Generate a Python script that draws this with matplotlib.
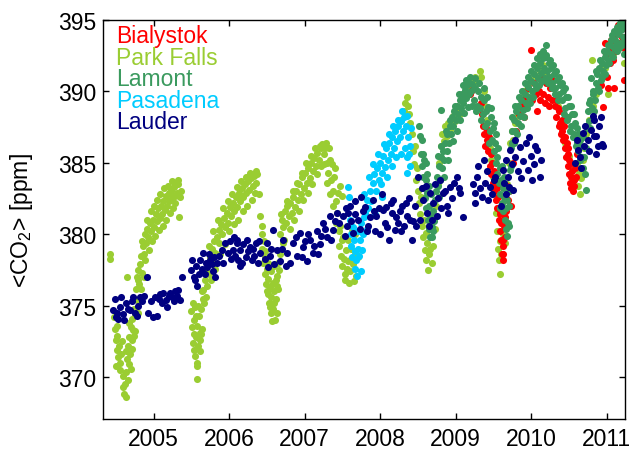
import numpy as np
import matplotlib
matplotlib.use("Agg")
import matplotlib.pyplot as plt

plt.rcParams['font.family'] = ['Liberation Sans', 'DejaVu Sans']
plt.rcParams['mathtext.fontset'] = 'custom'
plt.rcParams['mathtext.rm'] = 'Liberation Sans'
plt.rcParams['mathtext.it'] = 'Liberation Sans'

# (decimal year, XCO2 ppm)
bialystok = [
    (2009.19, 389.8), (2009.21, 390.1), (2009.33, 389.2), (2009.35, 388.4), (2009.36, 387.6),
    (2009.38, 387.0), (2009.39, 386.2), (2009.40, 387.4), (2009.42, 386.6), (2009.43, 385.8),
    (2009.45, 384.8), (2009.46, 385.6), (2009.47, 384.2), (2009.49, 383.6), (2009.50, 384.4),
    (2009.51, 383.0), (2009.53, 382.4), (2009.54, 383.4), (2009.55, 381.8), (2009.56, 382.6),
    (2009.57, 381.0), (2009.58, 380.2), (2009.59, 381.4), (2009.60, 379.6), (2009.61, 378.6),
    (2009.62, 378.2), (2009.63, 379.2), (2009.64, 380.6), (2009.65, 379.8), (2009.66, 381.6),
    (2009.67, 380.8), (2009.69, 382.4), (2009.71, 383.0), (2009.73, 382.0),
    (2009.44, 386.8), (2009.48, 385.0), (2009.52, 384.0), (2009.55, 383.2), (2009.58, 381.6),
    (2009.60, 380.8), (2009.62, 379.6), (2009.63, 378.6), (2009.65, 381.2), (2009.68, 383.4),
    (2009.76, 385.0), (2009.80, 387.2), (2009.84, 388.4), (2009.87, 389.0), (2009.90, 388.2),
    (2009.93, 389.6), (2009.96, 390.2), (2009.99, 392.9), (2010.01, 389.4), (2010.04, 390.6),
    (2010.07, 388.6), (2010.10, 390.0), (2010.13, 391.0), (2010.16, 389.8), (2010.19, 390.6),
    (2010.22, 389.6), (2010.25, 390.2), (2010.28, 389.4),
    (2010.06, 389.8), (2010.12, 389.4), (2010.18, 389.2), (2010.24, 389.0), (2010.27, 390.8),
    (2010.31, 389.0), (2010.33, 388.2), (2010.34, 389.4), (2010.36, 387.6), (2010.37, 388.6),
    (2010.39, 387.0), (2010.40, 388.0), (2010.42, 386.6), (2010.43, 387.6), (2010.44, 386.0),
    (2010.46, 385.4), (2010.47, 386.4), (2010.48, 384.8), (2010.49, 385.6), (2010.50, 384.2),
    (2010.51, 383.6), (2010.52, 385.0), (2010.53, 383.2), (2010.54, 384.4), (2010.55, 383.0),
    (2010.56, 383.8), (2010.58, 384.6), (2010.60, 385.6),
    (2010.35, 388.8), (2010.38, 387.8), (2010.41, 387.2), (2010.45, 386.8), (2010.48, 386.0),
    (2010.50, 385.2), (2010.52, 384.0), (2010.54, 383.4), (2010.57, 383.4), (2010.59, 384.0),
    (2010.92, 390.4), (2010.95, 388.9), (2010.97, 393.4), (2011.00, 391.0), (2011.02, 390.2),
    (2011.04, 392.0), (2011.06, 393.0), (2011.08, 392.2), (2011.09, 390.2), (2011.10, 393.6),
    (2011.12, 392.8), (2011.14, 394.2), (2011.16, 393.4), (2011.18, 394.6), (2011.20, 393.8),
    (2011.21, 394.9), (2011.22, 394.4), (2011.23, 393.0), (2011.23, 390.8), (2011.24, 394.8),
    (2010.99, 392.6), (2011.05, 393.6), (2011.11, 394.0), (2011.15, 394.6), (2011.19, 394.9),
]

park_falls = [
    (2004.42, 378.6), (2004.42, 378.3),
    (2004.49, 373.4), (2004.50, 372.6), (2004.51, 371.9), (2004.52, 372.9), (2004.53, 371.4),
    (2004.54, 372.2), (2004.56, 370.5), (2004.57, 371.6), (2004.59, 370.1), (2004.61, 368.8),
    (2004.62, 369.5), (2004.63, 368.6), (2004.64, 370.4), (2004.65, 371.3), (2004.65, 377.0),
    (2004.66, 372.2), (2004.67, 370.9), (2004.68, 372.8), (2004.69, 371.6), (2004.70, 373.5),
    (2004.71, 372.6), (2004.72, 374.1), (2004.73, 373.3), (2004.74, 374.8), (2004.75, 375.5),
    (2004.76, 374.4), (2004.77, 376.2), (2004.78, 375.4), (2004.79, 376.8), (2004.80, 377.5),
    (2004.81, 376.5), (2004.82, 377.9), (2004.84, 378.5), (2004.85, 377.3), (2004.86, 379.2),
    (2004.88, 378.6), (2004.89, 380.0), (2004.90, 379.4), (2004.92, 380.4), (2004.93, 379.8),
    (2004.95, 380.8), (2004.97, 380.2), (2004.99, 381.0), (2005.01, 380.5), (2005.03, 381.4),
    (2005.05, 380.9), (2005.06, 381.8), (2005.08, 381.1), (2005.10, 382.0), (2005.11, 381.4),
    (2005.13, 382.3), (2005.15, 381.7), (2005.16, 382.7), (2005.18, 382.0), (2005.20, 382.9),
    (2005.21, 382.3), (2005.23, 383.0), (2005.25, 382.5), (2005.27, 383.3), (2005.28, 382.7),
    (2005.30, 383.6), (2005.31, 382.9), (2005.33, 383.5), (2005.34, 381.2), (2005.35, 382.6),
    (2004.48, 374.2), (2004.50, 370.8), (2004.52, 373.6), (2004.55, 371.0), (2004.58, 372.5),
    (2004.60, 369.3), (2004.63, 371.8), (2004.66, 369.8), (2004.68, 373.8), (2004.70, 370.6),
    (2004.72, 372.0), (2004.74, 372.9), (2004.76, 373.2), (2004.78, 377.0), (2004.80, 374.5),
    (2004.83, 376.2), (2004.85, 379.5), (2004.87, 377.0), (2004.89, 378.2), (2004.91, 381.0),
    (2004.94, 378.9), (2004.96, 381.6), (2004.98, 379.5), (2005.00, 382.0), (2005.02, 379.9),
    (2005.04, 382.4), (2005.07, 380.3), (2005.09, 382.8), (2005.12, 380.6), (2005.14, 383.2),
    (2005.17, 381.0), (2005.19, 383.4), (2005.22, 381.5), (2005.24, 383.7), (2005.26, 381.8),
    (2005.29, 382.2), (2005.32, 383.8), (2005.36, 383.0),
    (2005.50, 374.6), (2005.51, 373.5), (2005.52, 372.4), (2005.53, 374.0), (2005.54, 373.0),
    (2005.55, 371.5), (2005.55, 374.9), (2005.56, 372.8), (2005.57, 373.6), (2005.58, 369.9),
    (2005.58, 371.0), (2005.59, 372.2), (2005.60, 374.3), (2005.61, 373.1), (2005.62, 371.8),
    (2005.63, 374.8), (2005.64, 373.4), (2005.65, 375.5),
    (2005.52, 375.2), (2005.54, 371.9), (2005.56, 374.3), (2005.57, 370.8), (2005.59, 375.0),
    (2005.61, 372.6), (2005.63, 373.0), (2005.64, 376.0),
    (2005.66, 376.1), (2005.67, 375.2), (2005.68, 376.8), (2005.70, 377.5), (2005.71, 376.4),
    (2005.72, 378.0), (2005.74, 377.2), (2005.75, 378.4), (2005.77, 379.0), (2005.78, 378.1),
    (2005.80, 379.5), (2005.82, 378.7), (2005.84, 379.8), (2005.86, 380.3), (2005.87, 379.4),
    (2005.89, 380.7), (2005.91, 380.0), (2005.93, 381.1), (2005.95, 380.5), (2005.97, 381.5),
    (2005.99, 380.8), (2006.01, 381.9), (2006.03, 381.3), (2006.05, 382.2), (2006.07, 381.6),
    (2006.09, 382.6), (2006.11, 381.9), (2006.13, 382.9), (2006.15, 382.3), (2006.17, 383.2),
    (2006.19, 382.6), (2006.21, 383.5), (2006.23, 382.9), (2006.25, 383.7), (2006.27, 383.1),
    (2006.29, 383.9), (2006.31, 383.4), (2006.33, 384.1), (2006.35, 383.6), (2006.37, 384.2),
    (2006.39, 382.8), (2006.41, 381.3),
    (2005.66, 377.4), (2005.69, 375.6), (2005.73, 379.2), (2005.76, 376.8), (2005.79, 380.2),
    (2005.81, 377.6), (2005.85, 381.0), (2005.88, 378.6), (2005.92, 381.8), (2005.94, 379.3),
    (2005.98, 382.3), (2006.00, 380.2), (2006.04, 382.8), (2006.06, 380.7), (2006.10, 383.3),
    (2006.12, 381.0), (2006.16, 383.7), (2006.18, 381.6), (2006.22, 384.0), (2006.24, 382.0),
    (2006.28, 384.3), (2006.30, 382.4), (2006.34, 382.9), (2006.36, 384.4),
    (2006.43, 380.0), (2006.44, 379.0), (2006.45, 378.0), (2006.46, 379.5), (2006.47, 377.2),
    (2006.48, 378.4), (2006.49, 376.5), (2006.50, 377.6), (2006.51, 375.8), (2006.52, 376.9),
    (2006.53, 375.2), (2006.54, 376.3), (2006.55, 374.5), (2006.56, 375.6), (2006.57, 373.9),
    (2006.58, 374.8), (2006.59, 376.0), (2006.60, 375.2), (2006.61, 374.0), (2006.62, 375.5),
    (2006.63, 376.4), (2006.64, 377.1), (2006.65, 378.0),
    (2006.44, 380.6), (2006.47, 378.8), (2006.50, 376.0), (2006.52, 378.0), (2006.54, 374.9),
    (2006.56, 377.4), (2006.58, 376.6), (2006.60, 377.8), (2006.62, 376.8), (2006.63, 374.5),
    (2006.65, 376.2), (2006.66, 377.5),
    (2006.67, 378.6), (2006.68, 380.0), (2006.70, 381.0), (2006.71, 379.4), (2006.72, 380.5),
    (2006.74, 381.6), (2006.75, 380.8), (2006.77, 382.0), (2006.79, 381.3), (2006.81, 382.2),
    (2006.83, 381.5), (2006.85, 382.6), (2006.87, 381.9), (2006.89, 383.0), (2006.91, 382.4),
    (2006.93, 383.5), (2006.95, 382.8), (2006.97, 384.0), (2006.99, 383.2), (2007.01, 384.3),
    (2007.03, 383.6), (2007.05, 384.6), (2007.07, 383.9), (2007.09, 385.0), (2007.11, 384.4),
    (2007.13, 385.3), (2007.15, 384.8), (2007.17, 385.7), (2007.19, 385.2), (2007.21, 386.0),
    (2007.23, 386.3), (2007.25, 385.6), (2007.27, 386.0), (2007.29, 385.0), (2007.31, 384.3),
    (2007.33, 385.2), (2007.35, 383.8), (2007.37, 383.0), (2007.39, 384.0), (2007.41, 382.3),
    (2007.43, 381.5), (2007.45, 380.2), (2007.46, 379.2), (2007.47, 383.4), (2007.48, 378.5),
    (2007.49, 382.7), (2007.49, 379.6), (2007.50, 377.8), (2007.52, 378.3), (2007.53, 377.2),
    (2007.55, 378.9), (2007.56, 377.6), (2007.58, 378.1), (2007.60, 377.4), (2007.62, 379.0),
    (2007.64, 377.9), (2007.66, 378.6), (2007.68, 377.1),
    (2006.69, 381.4), (2006.73, 379.6), (2006.76, 382.3), (2006.80, 380.4), (2006.84, 383.0),
    (2006.86, 381.0), (2006.90, 383.6), (2006.92, 381.6), (2006.96, 384.3), (2006.98, 382.4),
    (2007.02, 385.0), (2007.04, 382.9), (2007.08, 385.5), (2007.10, 383.5), (2007.14, 386.0),
    (2007.16, 384.2), (2007.20, 386.2), (2007.22, 384.8), (2007.26, 384.9), (2007.28, 386.4),
    (2007.30, 383.6), (2007.32, 386.0), (2007.34, 382.8), (2007.36, 384.9), (2007.38, 382.0),
    (2007.40, 384.6), (2007.42, 380.8), (2007.44, 382.9), (2007.47, 380.6), (2007.51, 379.8),
    (2007.54, 376.8), (2007.57, 379.6), (2007.59, 376.6), (2007.61, 378.3), (2007.63, 380.2),
    (2007.65, 376.7), (2007.67, 380.0), (2007.70, 378.4),
    (2008.28, 388.0), (2008.31, 388.6), (2008.33, 389.2), (2008.35, 389.6), (2008.37, 389.0),
    (2008.38, 388.4), (2008.40, 387.8),
    (2008.42, 387.0), (2008.43, 385.8), (2008.45, 384.9), (2008.46, 386.2), (2008.47, 383.8),
    (2008.49, 384.6), (2008.50, 383.0), (2008.51, 382.2), (2008.53, 381.4), (2008.54, 382.6),
    (2008.55, 380.6), (2008.57, 379.8), (2008.58, 381.0), (2008.59, 378.9), (2008.60, 380.1),
    (2008.61, 378.2), (2008.62, 379.4), (2008.63, 377.5), (2008.64, 378.6), (2008.65, 380.6),
    (2008.66, 379.0), (2008.68, 378.0), (2008.70, 379.2), (2008.72, 380.4),
    (2008.74, 382.0), (2008.76, 383.5), (2008.78, 385.0), (2008.80, 386.2), (2008.82, 387.0),
    (2008.84, 386.5), (2008.86, 387.6), (2008.88, 386.9), (2008.90, 387.8), (2008.93, 387.3),
    (2008.96, 388.3), (2008.99, 387.9), (2009.02, 388.8), (2009.05, 388.4), (2009.08, 389.3),
    (2009.11, 389.7), (2009.14, 390.1), (2009.17, 390.5), (2009.20, 390.2), (2009.23, 390.8),
    (2009.26, 391.0), (2009.29, 390.6), (2009.32, 391.4), (2009.34, 391.0),
    (2009.37, 390.0), (2009.39, 389.0), (2009.41, 388.0), (2009.43, 387.0), (2009.45, 386.0),
    (2009.47, 385.2), (2009.49, 384.0), (2009.51, 382.8), (2009.53, 381.5), (2009.55, 380.2),
    (2009.56, 379.0), (2009.57, 378.2), (2009.58, 377.2), (2009.59, 379.5), (2009.60, 378.6),
    (2009.61, 380.8), (2009.63, 380.0), (2009.64, 381.5), (2009.65, 379.4), (2009.66, 382.5),
    (2009.68, 383.5), (2009.70, 385.0), (2009.72, 386.4), (2009.74, 387.2), (2009.76, 386.6),
    (2009.78, 387.8), (2009.81, 388.3), (2009.84, 388.8), (2009.87, 389.5), (2009.89, 390.0),
    (2009.90, 389.2), (2009.93, 390.1), (2009.96, 390.5), (2010.00, 390.8), (2010.04, 391.2),
    (2010.08, 391.0), (2010.12, 391.5), (2010.16, 391.8), (2010.20, 391.3), (2010.24, 391.0),
    (2010.30, 390.2), (2010.35, 389.0), (2010.40, 387.8), (2010.45, 386.4), (2010.50, 385.5),
    (2010.55, 384.6), (2010.60, 384.0), (2010.61, 385.0), (2010.62, 383.4), (2010.63, 384.3),
    (2010.64, 382.8), (2010.66, 383.9), (2010.68, 385.2), (2010.70, 386.0),
    (2010.73, 387.0), (2010.76, 388.0), (2010.80, 392.2), (2010.82, 389.0), (2010.86, 389.8),
    (2010.90, 390.4), (2010.94, 391.0), (2010.98, 391.6), (2011.01, 389.8), (2011.04, 392.2),
    (2011.08, 392.6), (2011.12, 393.0), (2011.16, 393.4), (2011.20, 393.2), (2011.23, 392.0),
    (2011.23, 393.8),
]

lamont = [
    (2008.52, 387.6), (2008.53, 386.9), (2008.54, 385.6), (2008.55, 384.8), (2008.56, 384.0),
    (2008.57, 383.2), (2008.58, 385.2), (2008.59, 382.5), (2008.60, 383.8), (2008.61, 381.8),
    (2008.62, 382.9), (2008.63, 381.0), (2008.64, 380.4), (2008.65, 382.0), (2008.66, 379.8),
    (2008.67, 381.2), (2008.68, 380.5), (2008.69, 379.8), (2008.70, 381.6), (2008.71, 380.9),
    (2008.72, 382.4),
    (2008.74, 383.0), (2008.75, 384.0), (2008.76, 383.4), (2008.78, 384.8), (2008.79, 383.8),
    (2008.80, 385.4), (2008.81, 388.7), (2008.82, 384.6), (2008.83, 385.8), (2008.85, 385.2),
    (2008.86, 386.4), (2008.88, 385.8), (2008.89, 387.0), (2008.91, 386.4), (2008.92, 387.6),
    (2008.94, 387.0), (2008.95, 388.2), (2008.97, 387.6), (2008.98, 388.6), (2009.00, 388.0),
    (2009.02, 389.0), (2009.03, 388.4), (2009.05, 389.4), (2009.07, 388.8), (2009.08, 389.8),
    (2009.10, 389.2), (2009.12, 390.1), (2009.13, 389.5), (2009.15, 390.4), (2009.17, 389.8),
    (2009.18, 390.6), (2009.20, 390.0), (2009.22, 390.5), (2009.24, 389.4), (2009.26, 390.2),
    (2009.28, 389.0), (2009.30, 390.0), (2009.32, 388.8), (2009.34, 389.6), (2009.36, 388.4),
    (2009.38, 389.4),
    (2009.40, 388.6), (2009.42, 387.8), (2009.43, 388.9), (2009.45, 387.2), (2009.46, 388.2),
    (2009.48, 386.6), (2009.49, 387.4), (2009.50, 385.8), (2009.52, 386.4), (2009.53, 385.0),
    (2009.54, 384.2), (2009.55, 385.4), (2009.57, 383.6), (2009.58, 384.6), (2009.59, 382.8),
    (2009.60, 383.8), (2009.61, 382.2), (2009.62, 383.2), (2009.63, 381.6), (2009.64, 382.6),
    (2009.65, 381.0), (2009.66, 380.4), (2009.67, 381.8), (2009.68, 379.9), (2009.69, 380.8),
    (2009.70, 382.0), (2009.71, 383.0),
    (2009.72, 384.5), (2009.73, 386.0), (2009.74, 387.2), (2009.75, 386.4), (2009.77, 388.0),
    (2009.78, 387.2), (2009.80, 388.6), (2009.82, 387.8), (2009.83, 389.0), (2009.85, 388.3),
    (2009.87, 389.4), (2009.89, 388.7), (2009.91, 389.8), (2009.93, 389.2), (2009.95, 390.3),
    (2009.97, 389.6), (2009.99, 390.7), (2010.01, 390.0), (2010.03, 391.2), (2010.05, 390.5),
    (2010.07, 391.6), (2010.09, 390.9), (2010.11, 392.0), (2010.13, 391.3), (2010.15, 392.3),
    (2010.17, 391.6), (2010.19, 392.4), (2010.19, 393.2), (2010.21, 391.4), (2010.23, 392.0),
    (2010.24, 391.0), (2010.26, 391.6), (2010.28, 390.6), (2010.30, 391.2), (2010.32, 390.2),
    (2010.34, 390.8), (2010.36, 389.8), (2010.38, 390.4), (2010.40, 389.4), (2010.42, 390.0),
    (2010.44, 388.8), (2010.46, 389.6), (2010.48, 388.2), (2010.50, 389.0), (2010.52, 387.6),
    (2010.54, 388.4), (2010.56, 387.0), (2010.58, 387.8), (2010.60, 386.4), (2010.62, 385.8),
    (2010.63, 387.0), (2010.65, 385.2), (2010.66, 386.2), (2010.68, 384.6), (2010.70, 385.4),
    (2010.72, 383.1), (2010.73, 386.0),
    (2010.74, 387.4), (2010.75, 388.6), (2010.77, 387.9), (2010.78, 389.4), (2010.79, 390.9),
    (2010.80, 388.8), (2010.82, 390.0), (2010.84, 389.4), (2010.85, 390.6), (2010.87, 391.2),
    (2010.88, 390.2), (2010.90, 391.6), (2010.92, 390.8), (2010.93, 392.0), (2010.95, 391.4),
    (2010.97, 392.4), (2010.99, 391.8), (2011.00, 392.8), (2011.02, 392.2), (2011.04, 393.2),
    (2011.06, 392.6), (2011.07, 393.9), (2011.09, 393.0), (2011.11, 393.6), (2011.13, 392.8),
    (2011.15, 394.0), (2011.17, 393.4), (2011.19, 394.3), (2011.21, 393.8), (2011.23, 394.5),
    (2011.23, 392.6),
    (2008.55, 386.6), (2008.57, 385.6), (2008.60, 385.0), (2008.62, 384.2), (2008.65, 383.4),
    (2008.67, 382.8), (2008.70, 380.2), (2008.73, 381.2), (2008.76, 385.5), (2008.78, 382.6),
    (2008.81, 386.2), (2008.84, 384.0), (2008.87, 387.2), (2008.90, 385.2), (2008.93, 388.0),
    (2008.96, 386.5), (2008.99, 389.0), (2009.01, 387.2), (2009.04, 389.8), (2009.06, 388.0),
    (2009.09, 390.4), (2009.11, 388.5), (2009.14, 390.8), (2009.16, 388.9), (2009.19, 391.0),
    (2009.21, 389.0), (2009.25, 390.9), (2009.27, 388.6), (2009.31, 390.6), (2009.33, 388.0),
    (2009.37, 390.2), (2009.39, 387.6), (2009.41, 389.6), (2009.44, 386.4), (2009.47, 388.8),
    (2009.50, 387.8), (2009.53, 387.0), (2009.56, 386.0), (2009.58, 381.8), (2009.61, 384.8),
    (2009.64, 384.0), (2009.66, 383.2), (2009.68, 382.4), (2009.70, 380.6), (2009.73, 384.8),
    (2009.75, 388.2), (2009.77, 386.4), (2009.79, 389.0), (2009.81, 387.0), (2009.84, 389.6),
    (2009.86, 387.6), (2009.88, 390.0), (2009.90, 388.2), (2009.92, 390.6), (2009.94, 388.8),
    (2009.96, 391.0), (2009.98, 389.2), (2010.00, 391.4), (2010.02, 389.6), (2010.04, 391.8),
    (2010.06, 390.2), (2010.08, 392.3), (2010.10, 390.4), (2010.12, 392.6), (2010.14, 390.7),
    (2010.16, 392.8), (2010.18, 390.9), (2010.20, 392.5), (2010.22, 390.6), (2010.25, 392.2),
    (2010.27, 390.2), (2010.29, 391.8), (2010.31, 389.8), (2010.33, 391.4), (2010.35, 389.4),
    (2010.37, 391.0), (2010.41, 390.6), (2010.43, 388.4), (2010.45, 390.2), (2010.47, 388.0),
    (2010.49, 389.6), (2010.51, 387.2), (2010.53, 389.0), (2010.55, 386.8), (2010.57, 388.4),
    (2010.59, 386.2), (2010.61, 387.4), (2010.64, 386.6), (2010.67, 385.4), (2010.69, 386.8),
    (2010.71, 384.2), (2010.73, 387.6), (2010.76, 389.2), (2010.78, 387.4), (2010.81, 389.8),
    (2010.83, 388.6), (2010.86, 391.4), (2010.89, 390.0), (2010.91, 392.2), (2010.94, 391.0),
    (2010.96, 392.8), (2010.98, 391.2), (2011.01, 393.2), (2011.03, 392.0), (2011.05, 393.6),
    (2011.08, 392.4), (2011.10, 394.2), (2011.12, 393.2), (2011.14, 394.5), (2011.16, 393.0),
    (2011.18, 394.8), (2011.20, 393.2), (2011.22, 394.9), (2011.24, 393.6),
]

pasadena = [
    (2007.58, 383.3), (2007.59, 382.6), (2007.60, 381.0), (2007.61, 380.0), (2007.62, 379.2),
    (2007.63, 378.4), (2007.64, 380.5), (2007.65, 379.6), (2007.66, 378.8), (2007.67, 377.6),
    (2007.68, 378.2), (2007.69, 377.1), (2007.70, 380.2), (2007.71, 379.0), (2007.72, 378.5),
    (2007.73, 379.6), (2007.74, 380.8), (2007.75, 377.4), (2007.76, 378.9), (2007.77, 380.0),
    (2007.78, 381.2), (2007.80, 381.5), (2007.82, 382.4), (2007.83, 380.4), (2007.84, 381.8),
    (2007.86, 383.0), (2007.88, 382.3), (2007.90, 383.6), (2007.92, 384.2), (2007.93, 381.4),
    (2007.94, 383.0), (2007.96, 384.6), (2007.98, 383.8), (2008.00, 385.0), (2008.02, 384.3),
    (2008.03, 382.6), (2008.04, 385.5), (2008.06, 384.7), (2008.08, 386.0), (2008.10, 385.2),
    (2008.12, 386.4), (2008.14, 385.6), (2008.16, 386.8), (2008.18, 386.0), (2008.20, 387.2),
    (2008.22, 386.5), (2008.24, 387.6), (2008.26, 386.8), (2008.28, 387.9), (2008.30, 387.2),
    (2008.32, 388.2), (2008.34, 387.6), (2008.35, 388.3), (2008.35, 384.3), (2008.36, 385.4),
    (2008.37, 386.8), (2008.38, 385.6), (2008.39, 384.8), (2008.40, 386.2), (2008.41, 387.4),
    (2007.79, 382.8), (2007.85, 384.0), (2007.91, 384.9), (2007.97, 385.6), (2008.05, 386.3),
    (2008.11, 387.0), (2008.17, 387.6), (2008.23, 388.0), (2008.29, 388.6), (2008.33, 386.0),
    (2008.27, 385.6), (2008.21, 385.4), (2008.15, 384.8), (2008.09, 384.0), (2008.01, 383.5),
]

lauder = [
    (2004.47, 374.7), (2004.49, 375.5), (2004.50, 374.2), (2004.52, 374.5), (2004.53, 374.1),
    (2004.55, 374.9), (2004.57, 375.6), (2004.59, 374.4), (2004.61, 374.0), (2004.63, 375.2),
    (2004.66, 374.8), (2004.69, 374.7), (2004.71, 375.3), (2004.73, 375.6), (2004.76, 374.5),
    (2004.78, 374.3), (2004.80, 375.0), (2004.82, 375.6), (2004.85, 375.3), (2004.88, 375.7),
    (2004.92, 377.0), (2004.93, 374.5), (2004.96, 375.3), (2004.99, 374.2), (2005.02, 375.6),
    (2005.05, 374.3), (2005.07, 375.5), (2005.09, 375.8), (2005.11, 375.2), (2005.13, 375.9),
    (2005.16, 375.4), (2005.18, 374.9), (2005.20, 375.7), (2005.22, 375.9), (2005.25, 375.6),
    (2005.27, 375.3), (2005.29, 376.0), (2005.31, 375.7), (2005.33, 376.1), (2005.35, 375.4),
    (2005.38, 377.0),
    (2005.49, 377.5), (2005.51, 378.2), (2005.53, 377.0), (2005.55, 376.8), (2005.58, 376.4),
    (2005.60, 377.2), (2005.62, 378.2), (2005.64, 377.6), (2005.66, 378.7), (2005.69, 378.0),
    (2005.71, 377.7), (2005.73, 378.6), (2005.75, 378.2), (2005.77, 377.9), (2005.79, 377.4),
    (2005.82, 377.0), (2005.84, 378.0), (2005.86, 378.5), (2005.90, 378.9), (2005.95, 379.4),
    (2005.98, 378.7), (2006.01, 379.5), (2006.03, 378.3), (2006.05, 378.9), (2006.08, 378.5),
    (2006.10, 379.6), (2006.11, 379.4), (2006.12, 378.2), (2006.15, 378.9), (2006.17, 378.0),
    (2006.19, 379.3), (2006.22, 378.4), (2006.25, 378.8), (2006.28, 379.1), (2006.30, 378.2),
    (2006.33, 378.5), (2006.35, 379.4), (2006.38, 378.0), (2006.41, 378.7),
    (2005.56, 377.8), (2005.68, 377.2), (2005.80, 378.4), (2005.92, 378.0), (2006.06, 379.8),
    (2006.14, 377.8), (2006.24, 379.6), (2006.32, 379.0), (2006.40, 379.5),
    (2006.47, 378.3), (2006.50, 379.4), (2006.52, 377.7), (2006.54, 378.5), (2006.56, 379.0),
    (2006.58, 380.3), (2006.60, 377.9), (2006.64, 378.9), (2006.68, 378.1), (2006.70, 379.0),
    (2006.72, 379.6), (2006.75, 377.8), (2006.77, 378.7), (2006.81, 378.0), (2006.85, 379.4),
    (2006.88, 379.8), (2006.90, 378.5), (2006.94, 380.1), (2006.96, 378.4), (2006.98, 379.1),
    (2007.00, 379.5), (2007.03, 378.1), (2007.05, 380.0), (2007.07, 379.6), (2007.11, 378.7),
    (2007.13, 379.2), (2007.16, 380.2), (2007.18, 378.6), (2007.20, 379.3), (2007.22, 379.9),
    (2007.24, 380.8), (2007.27, 380.4), (2007.30, 379.8), (2007.33, 381.3), (2007.35, 379.6),
    (2007.37, 380.3), (2007.40, 380.9), (2007.43, 381.5), (2007.46, 380.8),
    (2007.51, 381.3), (2007.53, 379.9), (2007.56, 380.6), (2007.58, 381.5), (2007.60, 382.0),
    (2007.62, 380.9), (2007.64, 380.1), (2007.67, 382.3), (2007.70, 381.0), (2007.73, 380.4),
    (2007.77, 381.6), (2007.80, 381.9), (2007.84, 380.6), (2007.87, 381.2), (2007.90, 382.4),
    (2007.93, 380.2), (2007.95, 381.3), (2007.98, 381.8), (2008.02, 382.8), (2008.04, 381.7),
    (2008.06, 380.8), (2008.09, 380.5), (2008.12, 379.6), (2008.14, 382.2), (2008.16, 381.5),
    (2008.19, 380.3), (2008.23, 380.8), (2008.26, 381.6), (2008.29, 382.0), (2008.32, 380.6),
    (2008.35, 381.3), (2008.38, 382.5), (2008.42, 379.6), (2008.44, 380.9), (2008.46, 382.0),
    (2008.50, 384.0), (2008.53, 381.0), (2008.57, 382.4), (2008.60, 383.4), (2008.62, 381.5),
    (2008.66, 382.9), (2008.68, 381.0), (2008.70, 382.2), (2008.72, 383.5), (2008.75, 381.3),
    (2008.77, 382.5), (2008.79, 383.8), (2008.81, 381.8), (2008.83, 382.9), (2008.86, 383.0),
    (2008.88, 382.0), (2008.90, 381.5), (2008.92, 383.3), (2008.95, 382.5), (2008.98, 383.6),
    (2009.01, 384.0), (2009.04, 383.2), (2009.06, 382.9), (2009.10, 381.2),
    (2007.55, 381.8), (2007.66, 381.4), (2007.75, 382.6), (2007.82, 380.2), (2007.92, 381.6),
    (2008.00, 380.0), (2008.08, 381.9), (2008.17, 382.4), (2008.21, 381.2), (2008.28, 380.2),
    (2008.34, 382.2), (2008.40, 381.0), (2008.48, 380.6), (2008.55, 383.2), (2008.64, 380.6),
    (2009.23, 383.5), (2009.25, 382.2), (2009.26, 382.9), (2009.28, 384.0), (2009.30, 384.8),
    (2009.32, 383.2), (2009.35, 382.6), (2009.37, 385.2), (2009.39, 383.6), (2009.41, 384.4),
    (2009.43, 382.4), (2009.45, 383.3), (2009.48, 382.8), (2009.50, 383.8), (2009.52, 384.0),
    (2009.60, 382.0), (2009.62, 384.5), (2009.64, 383.6), (2009.66, 385.2), (2009.67, 382.8),
    (2009.69, 384.0), (2009.71, 383.3), (2009.72, 385.9), (2009.75, 384.9), (2009.76, 383.1),
    (2009.78, 386.6), (2009.79, 385.4), (2009.82, 384.4), (2009.85, 386.1), (2009.87, 383.9),
    (2009.89, 385.1), (2009.93, 386.4), (2009.95, 384.5), (2009.97, 386.8), (2009.99, 385.5),
    (2010.01, 383.8), (2010.03, 384.9), (2010.05, 386.2), (2010.07, 385.9), (2010.11, 384.0),
    (2010.13, 385.2),
    (2010.58, 385.0), (2010.60, 386.6), (2010.62, 385.9), (2010.64, 385.4), (2010.66, 384.6),
    (2010.69, 387.1), (2010.70, 386.2), (2010.71, 387.6), (2010.75, 386.6), (2010.77, 385.8),
    (2010.79, 387.3), (2010.81, 388.3), (2010.83, 388.0), (2010.83, 386.9), (2010.85, 386.9),
    (2010.85, 385.6), (2010.88, 386.2), (2010.90, 387.6), (2010.92, 388.2), (2010.94, 386.3),
    (2010.95, 386.2),
]

series = [
    ('Park Falls', park_falls, '#9ACD32'),
    ('Bialystok', bialystok, '#FF0000'),
    ('Lamont', lamont, '#3A9A5E'),
    ('Pasadena', pasadena, '#00CCFF'),
    ('Lauder', lauder, '#000080'),
]
legend_order = ['Bialystok', 'Park Falls', 'Lamont', 'Pasadena', 'Lauder']

fig = plt.figure(figsize=(6.31, 4.52), dpi=100)
ax = fig.add_axes([103.3 / 631, 1 - 420 / 452, 521.7 / 631, 399.3 / 452])

colors = {}
for name, pts, col in series:
    arr = np.array(pts)
    ax.scatter(arr[:, 0], arr[:, 1], s=26, c=col, linewidths=0, zorder=2)
    colors[name] = col

ax.set_xlim(2004.335, 2011.24)
ax.set_ylim(367.08, 395)
ax.set_xticks(range(2005, 2012))
ax.set_yticks(range(370, 396, 5))
ax.tick_params(direction='in', top=True, right=True, length=4, width=1,
               labelsize=16.5)
ax.tick_params(axis='x', pad=6)
ax.tick_params(axis='y', pad=5)
for sp in ax.spines.values():
    sp.set_linewidth(1.0)

ax.set_ylabel(r'<CO$_2$> [ppm]', fontsize=16.5)
ax.yaxis.set_label_coords(-0.13, 0.5)

for i, name in enumerate(legend_order):
    ax.text(0.0243, 0.9434 - i * 0.0536, name, transform=ax.transAxes,
            color=colors[name], fontsize=16.5, va='baseline', ha='left')

fig.savefig('out.png', dpi=100)
